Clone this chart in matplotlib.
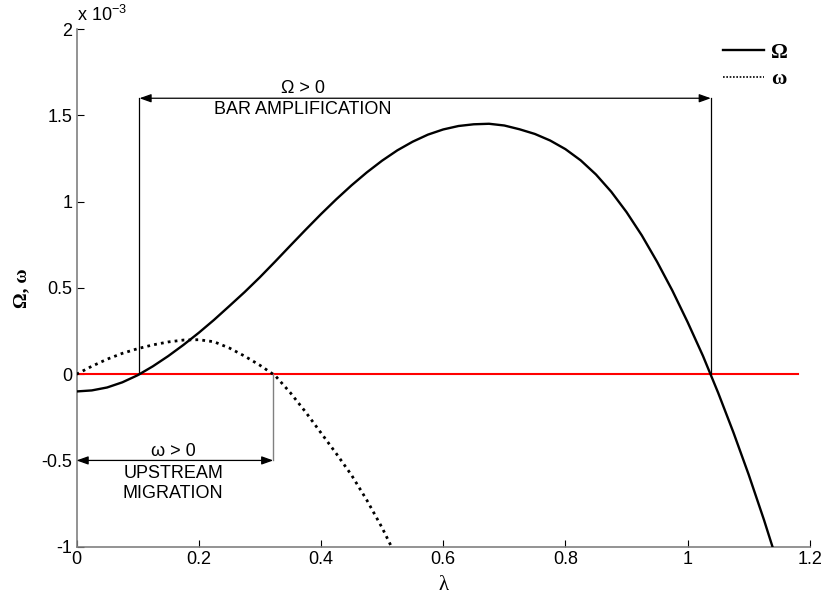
import matplotlib.pyplot as plt
from matplotlib.lines import Line2D

# values (y in units of 1e-3)
lam = [0.000, 0.025, 0.050, 0.075, 0.100, 0.125, 0.150, 0.175, 0.200, 0.225,
       0.250, 0.275, 0.300, 0.325, 0.350, 0.375, 0.400, 0.425, 0.450, 0.475,
       0.500, 0.525, 0.550, 0.575, 0.600, 0.625, 0.650, 0.675, 0.700, 0.725,
       0.750, 0.775, 0.800, 0.825, 0.850, 0.875, 0.900, 0.925, 0.950, 0.975,
       1.000, 1.025, 1.050, 1.075, 1.100, 1.125, 1.150]
Omega = [-0.100, -0.094, -0.077, -0.047, -0.006, 0.046, 0.105, 0.170, 0.240, 0.315,
         0.395, 0.476, 0.562, 0.653, 0.746, 0.838, 0.928, 1.014, 1.095, 1.170,
         1.238, 1.298, 1.348, 1.389, 1.419, 1.439, 1.449, 1.452, 1.442, 1.420,
         1.393, 1.355, 1.305, 1.240, 1.158, 1.058, 0.940, 0.805, 0.652, 0.485,
         0.302, 0.107, -0.108, -0.338, -0.583, -0.845, -1.125]

lam_w = [0.000, 0.025, 0.050, 0.075, 0.100, 0.125, 0.150, 0.175, 0.200, 0.225,
         0.250, 0.275, 0.300, 0.325, 0.350, 0.375, 0.400, 0.425, 0.450, 0.475,
         0.500, 0.525, 0.550]
omega = [0.000, 0.046, 0.087, 0.121, 0.148, 0.170, 0.187, 0.198, 0.200, 0.188,
         0.152, 0.105, 0.052, -0.008, -0.108, -0.220, -0.340, -0.460, -0.585, -0.730,
         -0.890, -1.070, -1.270]

zero_x = [0, 1.18]
amp_range = [0.103, 1.038]   # Omega > 0
mig_range = [0.0, 0.322]     # omega > 0

plt.rcParams['font.family'] = ['Liberation Sans', 'DejaVu Sans']
gray = '#808080'

fig = plt.figure(figsize=(8.23, 5.97), dpi=100)
ax = fig.add_axes([0.093, 0.0843, 0.891, 0.8667])

ax.plot(zero_x, [0, 0], color='red', lw=1.5, zorder=2)
ax.plot(lam, Omega, color='black', lw=1.7, zorder=3)
ax.plot(lam_w, omega, color='black', lw=2, ls=(0, (1, 1.5)), zorder=3)

# Omega > 0 bracket
for x in amp_range:
    ax.plot([x, x], [0, 1.6], color='black', lw=0.9)
ax.annotate('', xy=(amp_range[0], 1.6), xytext=(amp_range[1], 1.6),
            arrowprops=dict(arrowstyle='<|-|>,head_length=0.7,head_width=0.25',
                            color='black', lw=0.9, shrinkA=0, shrinkB=0))
ax.text(0.37, 1.655, 'Ω > 0', ha='center', va='center', fontsize=13)
ax.text(0.37, 1.535, 'BAR AMPLIFICATION', ha='center', va='center', fontsize=13)

# omega > 0 bracket
ax.plot([mig_range[1], mig_range[1]], [0, -0.5], color=gray, lw=1)
ax.annotate('', xy=(mig_range[0], -0.5), xytext=(mig_range[1], -0.5),
            arrowprops=dict(arrowstyle='<|-|>,head_length=0.7,head_width=0.25',
                            color='black', lw=0.9, shrinkA=0, shrinkB=0))
ax.text(0.158, -0.45, 'ω > 0', ha='center', va='center', fontsize=13)
ax.text(0.158, -0.575, 'UPSTREAM', ha='center', va='center', fontsize=13)
ax.text(0.158, -0.69, 'MIGRATION', ha='center', va='center', fontsize=13)

ax.set_xlim(0, 1.2)
ax.set_ylim(-1, 2)
ax.set_xticks([0, 0.2, 0.4, 0.6, 0.8, 1, 1.2])
ax.set_xticklabels(['0', '0.2', '0.4', '0.6', '0.8', '1', '1.2'])
ax.set_yticks([-1, -0.5, 0, 0.5, 1, 1.5, 2])
ax.set_yticklabels(['-1', '-0.5', '0', '0.5', '1', '1.5', '2'])
ax.tick_params(direction='in', length=5, color='black', labelsize=13, pad=3)

for s in ['top', 'right']:
    ax.spines[s].set_visible(False)
for s in ['left', 'bottom']:
    ax.spines[s].set_color(gray)
    ax.spines[s].set_linewidth(1.2)

ax.set_xlabel('λ', fontsize=15, family='Liberation Serif', labelpad=6)
ax.set_ylabel('Ω, ω', fontsize=14, family='Liberation Serif', fontweight='bold', labelpad=8)

fig.text(0.094, 0.958, r'x 10$^{\mathregular{-3}}$', fontsize=13, va='bottom')

handles = [Line2D([], [], color='black', lw=1.7),
           Line2D([], [], color='black', lw=1.2, ls=(0, (1, 1)))]
leg = ax.legend(handles, ['Ω', 'ω'], loc='upper left', frameon=False,
                bbox_to_anchor=(704 / 823, 1 - 24 / 597), bbox_transform=fig.transFigure,
                handlelength=2.0, handletextpad=0.3, labelspacing=0.3,
                prop={'family': 'Liberation Serif', 'size': 15, 'weight': 'bold'})

fig.savefig('out.png', dpi=100)
